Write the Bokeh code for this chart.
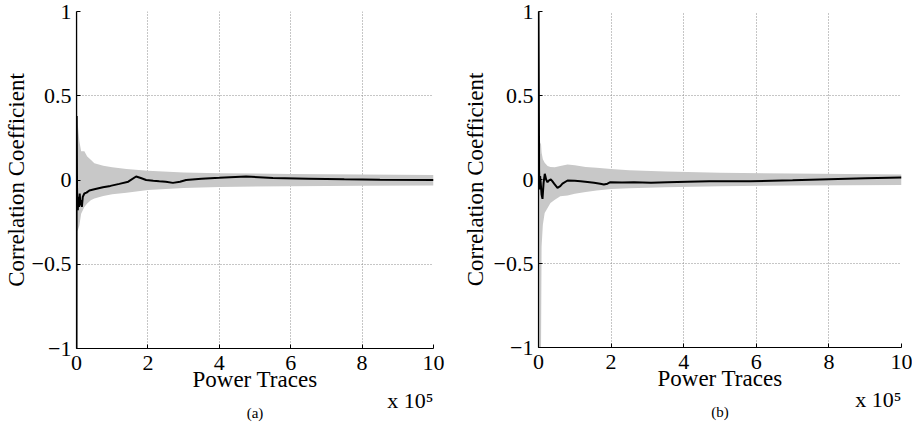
from bokeh.plotting import figure
from bokeh.layouts import row
from bokeh.models import Range1d, Title
from bokeh.embed import file_html
from bokeh.resources import INLINE

# ---------------- data ----------------
x_ticks = [0, 200000, 400000, 600000, 800000, 1000000]
x_tick_labels = ["0", "2", "4", "6", "8", "10"]
y_ticks = [-1, -0.5, 0, 0.5, 1]
y_tick_labels = ["\u22121", "\u22120.5", "0", "0.5", "1"]

y_title = "Correlation Coefficient"
x_title = "Power Traces"
x_scale_note = "x 10\u2075"
panel_tags = ["(a)", "(b)"]

# panel (a): envelope of the wrong-key correlation traces (grey)
a_band_x = [0, 3000, 3600, 8000, 13000, 22000, 30000, 40000, 50000, 75000, 100000,
            140000, 200000, 300000, 400000, 600000, 800000, 1000000]
a_band_hi = [1.0, 1.0, 0.33, 0.23, 0.17, 0.17, 0.14, 0.12, 0.10, 0.085, 0.075,
             0.066, 0.055, 0.045, 0.040, 0.036, 0.033, 0.030]
a_band_lo = [-0.30, -0.30, -0.30, -0.27, -0.20, -0.16, -0.14, -0.12, -0.11, -0.095, -0.085,
             -0.075, -0.060, -0.047, -0.041, -0.037, -0.034, -0.032]

# panel (a): correct-key correlation (black)
a_x = [0, 500, 1500, 2500, 3600, 5000, 7000, 9000, 11000, 13000, 15000, 17600, 22000,
       28000, 36000, 50000, 74000, 95000, 120000, 145000, 167000, 180000, 195000, 215000,
       232000, 250000, 270000, 290000, 307000, 350000, 400000, 475000, 550000, 650000,
       750000, 850000, 1000000]
a_y = [-1.0, 0.38, -0.05, -0.15, -0.18, -0.10, -0.16, -0.08, -0.15, -0.12, -0.16, -0.10, -0.08,
       -0.075, -0.062, -0.055, -0.043, -0.035, -0.023, -0.01, 0.021, 0.012, 0.0, -0.004,
       -0.007, -0.01, -0.017, -0.01, 0.0, 0.008, 0.013, 0.021, 0.012, 0.008,
       0.004, 0.002, 0.0]

# panel (b)
b_band_x = [0, 1500, 3000, 4500, 7000, 8500, 12000, 17000, 25000, 33000, 45000, 60000,
            80000, 100000, 130000, 160000, 200000, 250000, 350000, 500000, 700000, 1000000]
b_band_hi = [0.42, 0.42, 0.30, 0.22, 0.21, 0.16, 0.12, 0.10, 0.08, 0.075, 0.073, 0.08,
             0.09, 0.085, 0.075, 0.07, 0.063, 0.055, 0.047, 0.040, 0.035, 0.030]
b_band_lo = [-1.0, -1.0, -1.0, -1.0, -1.0, -0.40, -0.27, -0.20, -0.17, -0.14, -0.12, -0.10,
             -0.095, -0.085, -0.075, -0.065, -0.056, -0.052, -0.046, -0.040, -0.036, -0.032]

b_x = [0, 1000, 1650, 3000, 4500, 6300, 8500, 11000, 14000, 17300, 21000, 24800, 29000,
       33900, 38000, 43000, 52300, 60000, 66000, 80000, 100000, 116000, 135000, 153000,
       170000, 180000, 190000, 198000, 230000, 263000, 310000, 355000, 410000, 471000,
       584000, 700000, 800000, 900000, 1000000]
b_y = [1.0, 0.45, 0.055, -0.06, 0.02, -0.025, -0.09, -0.115, -0.02, 0.034, 0.0, -0.016, -0.005,
       0.0, -0.01, -0.025, -0.05, -0.04, -0.025, -0.006, -0.008, -0.01, -0.015, -0.02,
       -0.025, -0.03, -0.025, -0.016, -0.018, -0.016, -0.02, -0.016, -0.013, -0.01,
       -0.01, -0.005, 0.002, 0.008, 0.012]

FONT = "Liberation Serif"
GREY = "#c8c8c8"
FIG_H = 418


def make_panel(band_x, band_hi, band_lo, lx, ly, tag, frame_w, frame_h, bl, br, ylab_standoff):
    p = figure(frame_width=frame_w, frame_height=frame_h,
               x_range=Range1d(0, 1000000), y_range=Range1d(-1, 1),
               output_backend="svg", toolbar_location=None,
               min_border_left=bl, min_border_right=br,
               min_border_top=11, min_border_bottom=FIG_H - 11 - frame_h)
    p.outline_line_color = None
    p.background_fill_color = "white"

    p.varea(x=band_x, y1=band_lo, y2=band_hi, fill_color=GREY)
    p.line(x=lx, y=ly, line_color="black", line_width=2)

    for ax in (p.xaxis[0], p.yaxis[0]):
        ax.axis_line_color = "black"
        ax.axis_line_width = 1.2
        ax.major_tick_in = 4
        ax.major_tick_out = 0
        ax.minor_tick_line_color = None
        ax.major_tick_line_color = "black"
        ax.major_label_text_font = FONT
        ax.major_label_text_font_size = "22px"
        ax.major_label_text_color = "black"
        ax.axis_label_text_font = FONT
        ax.axis_label_text_font_size = "23px"
        ax.axis_label_text_font_style = "normal"
        ax.axis_label_text_color = "black"

    p.xaxis.ticker = x_ticks
    p.yaxis.ticker = y_ticks
    p.xaxis.major_label_overrides = {t: s for t, s in zip(x_ticks, x_tick_labels)}
    p.yaxis.major_label_overrides = {t: s for t, s in zip(y_ticks, y_tick_labels)}
    p.xaxis.axis_label = x_title
    p.yaxis.axis_label = y_title
    p.xaxis.major_label_standoff = 7
    p.xaxis.axis_label_standoff = -6
    p.yaxis.major_label_standoff = 5
    p.yaxis.axis_label_standoff = ylab_standoff

    for g in (p.xgrid[0], p.ygrid[0]):
        g.grid_line_color = "#8c8c8c"
        g.grid_line_dash = "1 2"
        g.grid_line_width = 1

    p.add_layout(Title(text=x_scale_note, align="right", text_font=FONT,
                       text_font_size="22px", text_font_style="normal",
                       text_color="black", standoff=-36), "below")
    p.add_layout(Title(text=tag, align="center", text_font=FONT,
                       text_font_size="15px", text_font_style="normal",
                       text_color="black", standoff=16), "below")
    return p


pa = make_panel(a_band_x, a_band_hi, a_band_lo, a_x, a_y, panel_tags[0],
                357, 337, 73, 26, 0)
pb = make_panel(b_band_x, b_band_hi, b_band_lo, b_x, b_y, panel_tags[1],
                363, 336, 78, 11, 3)

layout = row(pa, pb, spacing=0)
open("out.html", "w").write(file_html(layout, INLINE))
